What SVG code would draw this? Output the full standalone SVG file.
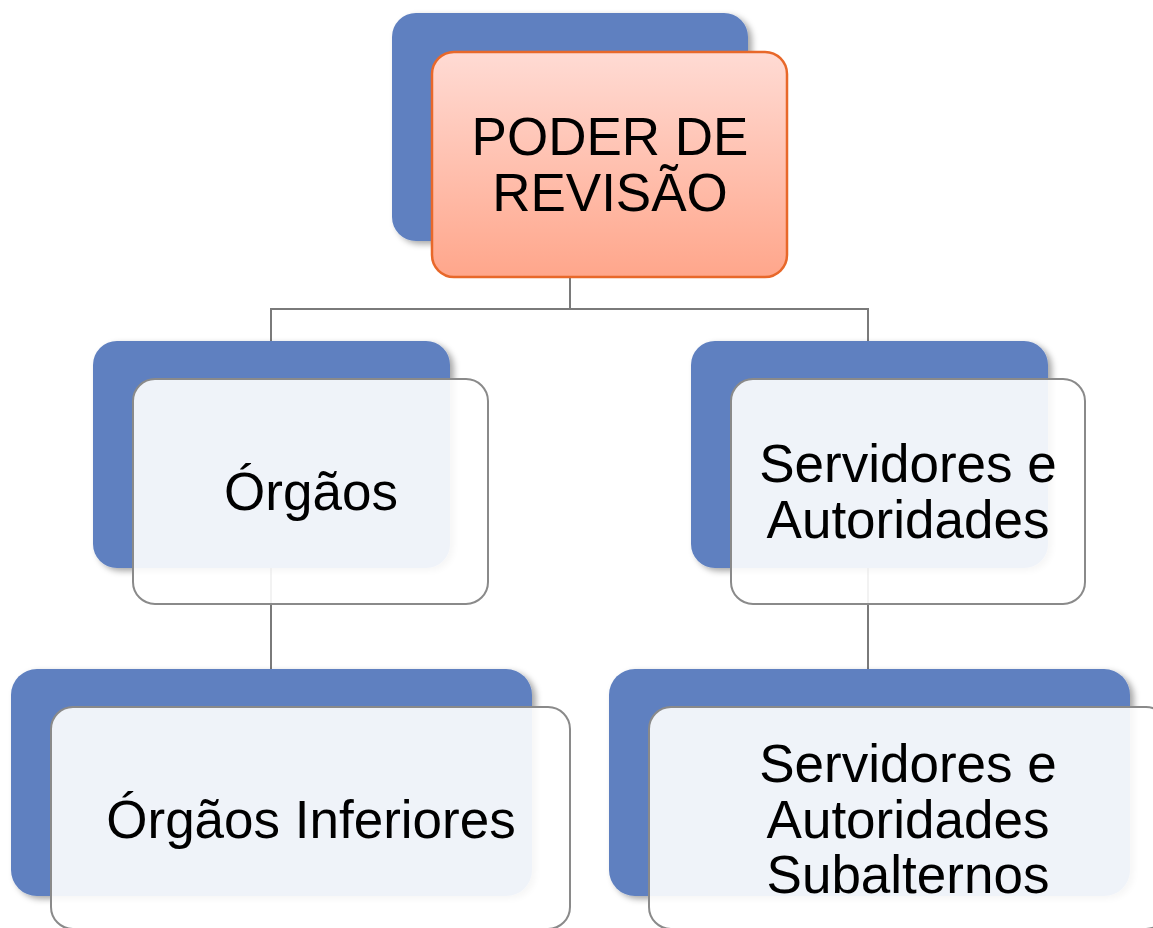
<svg xmlns="http://www.w3.org/2000/svg" width="1153" height="928" viewBox="0 0 1153 928">
<defs>
  <linearGradient id="pink" x1="0" y1="0" x2="0" y2="1">
    <stop offset="0" stop-color="#FFDBD4"/>
    <stop offset="1" stop-color="#FFA68B"/>
  </linearGradient>
  <filter id="sh" x="-10%" y="-10%" width="125%" height="125%">
    <feDropShadow dx="4" dy="3" stdDeviation="3" flood-color="#000" flood-opacity="0.35"/>
  </filter>
</defs>
<style>
  .back{fill:#5F80C0;filter:url(#sh)}
  .front{fill:#FFFFFF;fill-opacity:0.9;stroke:#8A8A8A;stroke-width:2}
  .top{fill:url(#pink);stroke:#E8682A;stroke-width:2.5}
  .lbl{font-family:"Liberation Sans",Arial,sans-serif;font-size:53px;fill:#000;text-anchor:middle}
  .conn{fill:none;stroke:#7A7A7A;stroke-width:2}
</style>
<g id="connectors">
  <path class="conn" d="M570 277 V309 M271 341 V309 H868 V341"/>
  <path class="conn" d="M271 568 V669"/>
  <path class="conn" d="M868 568 V669"/>
</g>
<g id="node-poder">
  <rect class="back" x="392" y="13" width="356" height="228" rx="24"/>
  <rect class="top" x="432" y="52" width="355" height="225" rx="22"/>
  <text class="lbl" x="610" y="155" font-size="54">PODER DE</text>
  <text class="lbl" x="610" y="211" font-size="54">REVISÃO</text>
</g>
<g id="node-orgaos">
  <rect class="back" x="93" y="341" width="357" height="227" rx="24"/>
  <rect class="front" x="133" y="379" width="355" height="225" rx="22"/>
  <text class="lbl" x="311" y="510">Órgãos</text>
</g>
<g id="node-servidores">
  <rect class="back" x="691" y="341" width="357" height="227" rx="24"/>
  <rect class="front" x="731" y="379" width="354" height="225" rx="22"/>
  <text class="lbl" x="908" y="482">Servidores e</text>
  <text class="lbl" x="908" y="538">Autoridades</text>
</g>
<g id="node-orgaos-inferiores">
  <rect class="back" x="11" y="669" width="521" height="227" rx="26"/>
  <rect class="front" x="51" y="707" width="519" height="222" rx="22"/>
  <text class="lbl" x="311" y="838">Órgãos Inferiores</text>
</g>
<g id="node-subalternos">
  <rect class="back" x="609" y="669" width="521" height="227" rx="26"/>
  <rect class="front" x="649" y="707" width="519" height="222" rx="22"/>
  <text class="lbl" x="908" y="782">Servidores e</text>
  <text class="lbl" x="908" y="838">Autoridades</text>
  <text class="lbl" x="908" y="893">Subalternos</text>
</g>
</svg>
